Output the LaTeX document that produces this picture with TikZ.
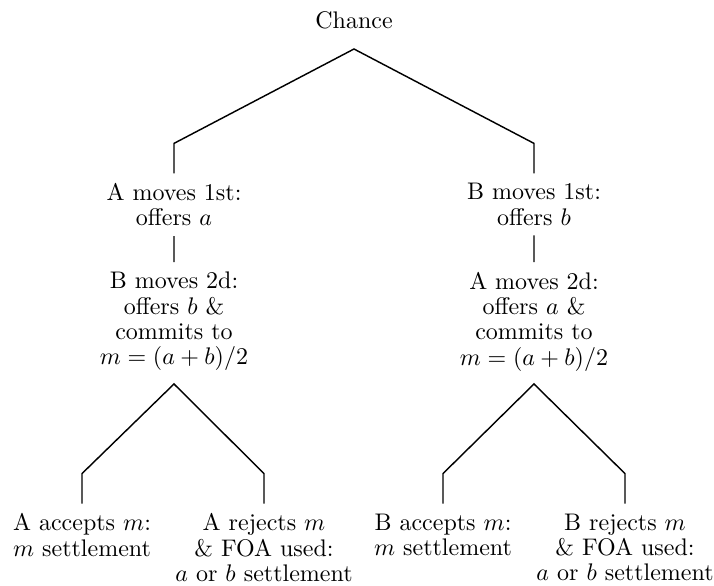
\documentclass[tikz,border=0pt]{standalone}
\usetikzlibrary{calc}
\tikzset{
  move/.style={align=center,inner sep=4pt,anchor=north,font=\fontsize{10}{10.5}\selectfont},
  branch/.style={line width=0.6pt},
}
\begin{document}
\begin{tikzpicture}[scale=0.1464]
  \useasboundingbox (0,0) rectangle (71.4,58.6);
  \node [font=\fontsize{10}{10.5}\selectfont] (chance) at (35.4,56.6) {Chance};
  \coordinate (top) at (35.4,53.7);
  % first movers
  \node [move] (a1) at (17.4,41.26) {A moves 1st:\\ offers $a$};
  \node [move] (b1) at (53.4,41.26) {B moves 1st:\\ offers $b$};
  \draw [branch] (a1.north) -- ++(0,3) -- (top) -- ($(b1.north)+(0,3)$) -- (b1.north);
  % second movers
  \node [move] (a2) at (17.4,32.38) {B moves 2d:\\ offers $b$ \&\\ commits to\\ $m=(a+b)/2$};
  \node [move] (b2) at (53.4,32.38) {A moves 2d:\\ offers $a$ \&\\ commits to\\ $m=(a+b)/2$};
  \draw [branch] (a1) -- (a2);
  \draw [branch] (b1) -- (b2);
  \coordinate (forka) at (17.4,20.2);
  \coordinate (forkb) at (53.4,20.2);
  % outcomes
  \node [move] (aacc) at (8.2,8.24) {A accepts $m$:\\ $m$ settlement};
  \node [move] (arej) at (26.4,8.24) {A rejects $m$\\ \& FOA used:\\ $a$ or $b$ settlement};
  \node [move] (bacc) at (44.3,8.24) {B accepts $m$:\\ $m$ settlement};
  \node [move] (brej) at (62.5,8.24) {B rejects $m$\\ \& FOA used:\\ $a$ or $b$ settlement};
  \draw [branch] (aacc.north) -- ++(0,3) -- (forka) -- ($(arej.north)+(0,3)$) -- (arej.north);
  \draw [branch] (bacc.north) -- ++(0,3) -- (forkb) -- ($(brej.north)+(0,3)$) -- (brej.north);
\end{tikzpicture}
\end{document}
